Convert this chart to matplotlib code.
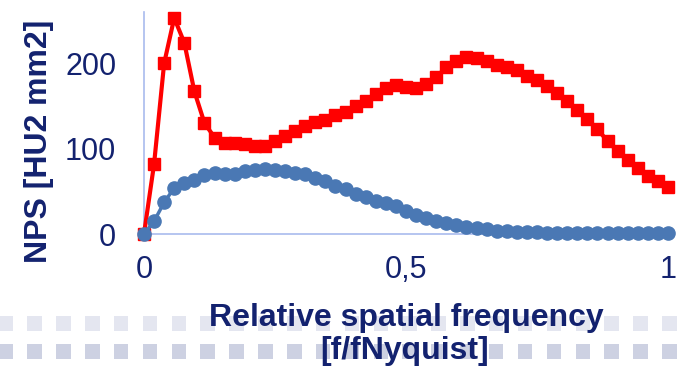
import matplotlib
matplotlib.use('Agg')
import matplotlib.pyplot as plt
from matplotlib.patches import Rectangle
import numpy as np

# NPS curves, 53 samples from 0 to fNyquist
freq = np.linspace(0, 1, 53)

nps_red = [0, 82, 200, 253, 224, 167, 130, 113, 107, 106, 105, 103, 103.5,
           109, 115, 121, 126, 131, 134, 139, 143, 150, 156, 164, 171.5, 174,
           172.5, 171, 175.5, 184, 195, 202.5, 207, 206.5, 202.5, 197.5, 195,
           191.5, 185.5, 180, 173, 165, 156, 145.5, 134.7, 122.5, 109, 97, 87,
           77, 68, 62.6, 55.6]

nps_blue = [0, 15, 37, 54, 59.5, 63.5, 69.5, 71, 70, 70.5, 73.5, 75, 76, 75,
            73.5, 72, 69.8, 66, 61.5, 56, 52.5, 47, 43, 39, 36.5, 33, 27.5, 22,
            18.5, 15.5, 13, 10.5, 8.5, 6.5, 5.5, 4, 3, 2.5, 2, 2, 1.5, 1.5, 1.5,
            1.5, 1.5, 1.5, 1.5, 1.5, 1.5, 1.5, 1.5, 1.5, 1.5]

xticks = [0, 0.5, 1]
xticklabels = ['0', '0,5', '1']
yticks = [0, 100, 200]

navy = '#13226f'
axis_col = '#a9bbee'

plt.rcParams['font.family'] = ['Liberation Sans', 'DejaVu Sans']

W, H = 683, 369
fig = plt.figure(figsize=(W / 100, H / 100), dpi=100)
ax = fig.add_axes([144 / W, (H - 234) / H, 524 / W, 222 / H])

# background squares (slide decoration)
period = 28.85
for k in range(24):
    x0 = -1.5 + k * period
    fig.add_artist(Rectangle((x0 / W, (H - 331) / H), 14.5 / W, 15 / H,
                             transform=fig.transFigure, color='#e4e6f0', lw=0, zorder=0))
    fig.add_artist(Rectangle((x0 / W, (H - 359) / H), 14.5 / W, 15 / H,
                             transform=fig.transFigure, color='#cdd1e2', lw=0, zorder=0))

ax.plot(freq, nps_red, color='#ff0000', lw=3, marker='s', ms=8, mec='#ff0000', clip_on=False, zorder=3)
ax.plot(freq, nps_blue, color='#4a78b4', lw=2.5, marker='o', ms=9.5, mec='#4a78b4', clip_on=False, zorder=4)

ax.set_xlim(0, 1)
ax.set_ylim(0, 260)
ax.set_xticks(xticks)
ax.set_xticklabels(xticklabels)
ax.set_yticks(yticks)
ax.tick_params(length=0, labelsize=22, labelcolor=navy)
ax.tick_params(axis='x', pad=15)
ax.tick_params(axis='y', pad=20)
for s in ['top', 'right']:
    ax.spines[s].set_visible(False)
for s in ['left', 'bottom']:
    ax.spines[s].set_color(axis_col)
    ax.spines[s].set_linewidth(1.2)
ax.patch.set_alpha(0)

fig.text(39 / W, 1 - 141 / H, 'NPS [HU2 mm2]', rotation=90, ha='center', va='center',
         fontsize=23, fontweight='bold', color=navy)
fig.text(406 / W, 1 - 326 / H, 'Relative spatial frequency', ha='center', va='baseline',
         fontsize=23, fontweight='bold', color=navy)
fig.text(405 / W, 1 - 359 / H, '[f/fNyquist]', ha='center', va='baseline',
         fontsize=23, fontweight='bold', color=navy)

fig.savefig('out.png', dpi=100)
